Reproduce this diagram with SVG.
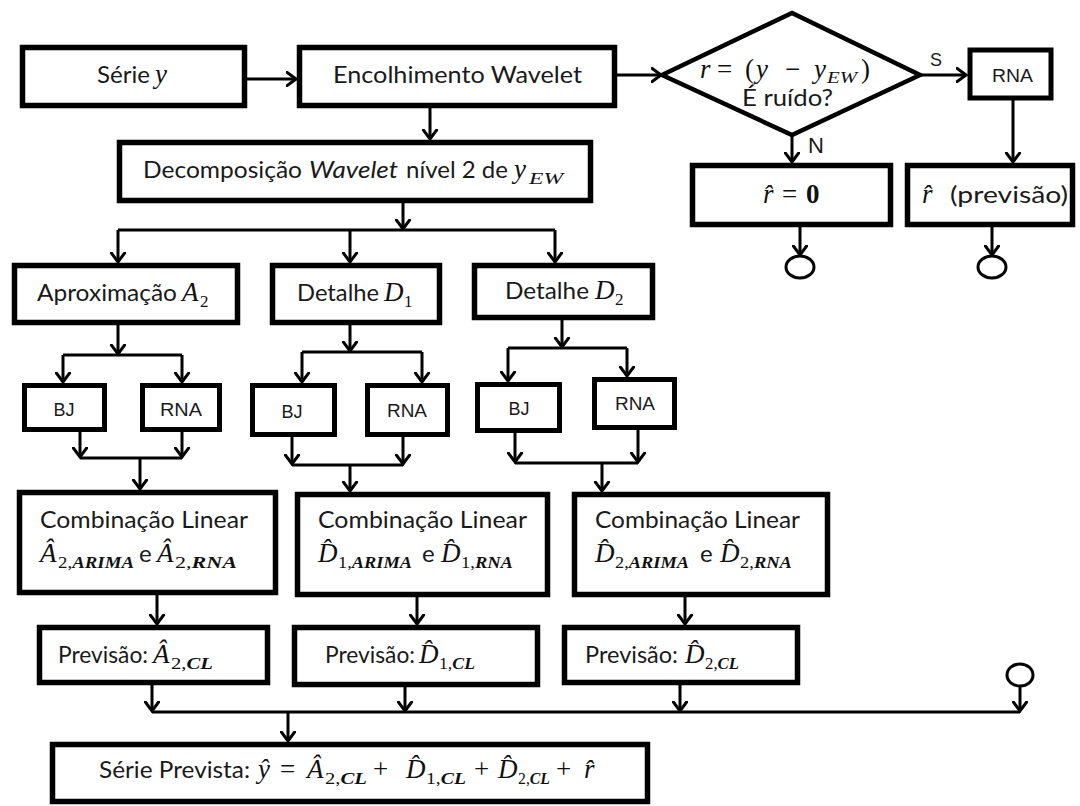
<svg xmlns="http://www.w3.org/2000/svg" width="1080" height="806" viewBox="0 0 1080 806">
<style>
.box{fill:#fff;stroke:#000;stroke-width:5.5}
.sm{fill:#fff;stroke:#000;stroke-width:5}
.ln{fill:none;stroke:#000;stroke-width:3}
.ar{fill:none;stroke:#000;stroke-width:3;marker-end:url(#ah)}
.t{font-family:Lato,'Open Sans',sans-serif;font-size:24px;fill:#1a1a1a}
.a{font-family:'Liberation Sans',Arial,sans-serif;fill:#1a1a1a}
.m{font-family:'Liberation Serif','DejaVu Serif',serif;font-style:italic;font-size:27px;fill:#111}
.mr{font-family:'Liberation Serif','DejaVu Serif',serif;font-size:27px;fill:#111}
.s{font-family:'Liberation Serif','DejaVu Serif',serif;font-size:17px;fill:#111}
.b{font-style:italic;font-weight:bold}
</style>
<defs>
<marker id="ah" viewBox="0 0 12 16" refX="10.5" refY="8" markerWidth="12" markerHeight="16" markerUnits="userSpaceOnUse" orient="auto">
<path d="M1,1 L10.5,8 L1,15" fill="none" stroke="#000" stroke-width="3" stroke-linecap="round"/>
</marker>
</defs>
<rect width="1080" height="806" fill="#fff"/>

<g id="connectors">
<path class="ar" d="M247,79 H296"/>
<path class="ar" d="M617,75 H661"/>
<path class="ar" d="M430,108 V139"/>
<path class="ar" d="M403,203 V229"/>
<path class="ln" d="M118,230 H555"/>
<path class="ar" d="M118,230 V262"/>
<path class="ar" d="M350,230 V262"/>
<path class="ar" d="M555,230 V262"/>
<path class="ar" d="M920,75 H966"/>
<path class="ar" d="M792,135 V162"/>
<path class="ar" d="M1013,100 V162"/>
<path class="ar" d="M800,227 V255"/>
<path class="ar" d="M992,227 V255"/>
<ellipse class="ln" cx="800" cy="267" rx="14" ry="11"/>
<ellipse class="ln" cx="992" cy="267" rx="14" ry="11"/>

<path class="ar" d="M118,325 V354"/>
<path class="ln" d="M63,355 H182"/>
<path class="ar" d="M63,355 V382"/>
<path class="ar" d="M182,355 V382"/>
<path class="ar" d="M80,432 V457"/>
<path class="ar" d="M182,432 V457"/>
<path class="ln" d="M80,458 H182"/>
<path class="ar" d="M140,458 V489"/>

<path class="ar" d="M350,325 V351"/>
<path class="ln" d="M302,352 H422"/>
<path class="ar" d="M302,352 V382"/>
<path class="ar" d="M422,352 V382"/>
<path class="ar" d="M292,437 V464"/>
<path class="ar" d="M403,437 V464"/>
<path class="ln" d="M292,465 H403"/>
<path class="ar" d="M350,465 V491"/>

<path class="ar" d="M562,320 V347"/>
<path class="ln" d="M508,348 H627"/>
<path class="ar" d="M508,348 V381"/>
<path class="ar" d="M627,348 V376"/>
<path class="ar" d="M515,433 V462"/>
<path class="ar" d="M638,430 V462"/>
<path class="ln" d="M515,463 H638"/>
<path class="ar" d="M602,463 V491"/>

<path class="ar" d="M157,595 V624"/>
<path class="ar" d="M417,597 V624"/>
<path class="ar" d="M685,597 V624"/>

<path class="ar" d="M152,685 V711"/>
<path class="ar" d="M405,687 V711"/>
<path class="ar" d="M680,685 V711"/>
<ellipse class="ln" cx="1020" cy="675" rx="13" ry="11"/>
<path class="ar" d="M1020,686 V711"/>
<path class="ln" d="M152,712 H1020"/>
<path class="ar" d="M288,712 V741"/>
</g>

<g id="serie">
<rect class="box" x="22.5" y="47.5" width="222" height="58"/>
<text class="t" x="97" y="83" textLength="53" lengthAdjust="spacingAndGlyphs">Série</text>
<text class="m" x="155" y="83">y</text>
</g>

<g id="encolhimento">
<rect class="box" x="299.5" y="47.5" width="315" height="58"/>
<text class="t" x="333" y="83" textLength="249" lengthAdjust="spacingAndGlyphs">Encolhimento Wavelet</text>
</g>

<g id="decomposicao">
<rect class="box" x="119.5" y="142.5" width="471" height="58"/>
<text class="t" x="143" y="178" textLength="159" lengthAdjust="spacingAndGlyphs">Decomposição</text>
<text class="t" x="309" y="178" font-style="italic" textLength="89" lengthAdjust="spacingAndGlyphs">Wavelet</text>
<text class="t" x="406" y="178" textLength="102" lengthAdjust="spacingAndGlyphs">nível 2 de</text>
<text class="m" x="514" y="178">y</text>
<text class="s" x="529" y="184" font-style="italic" textLength="34" lengthAdjust="spacingAndGlyphs">EW</text>
</g>

<g id="decisao">
<polygon points="662,75 792,13 920,75 792,135" fill="#fff" stroke="#000" stroke-width="4.5"/>
<text class="m" x="700" y="78">r</text>
<text class="mr" x="717" y="78">=</text>
<text class="mr" x="745" y="78">(</text>
<text class="m" x="756" y="78">y</text>
<text class="mr" x="785" y="78">−</text>
<text class="m" x="814" y="78">y</text>
<text class="s" x="827" y="83" font-style="italic" textLength="30" lengthAdjust="spacingAndGlyphs">EW</text>
<text class="mr" x="861" y="78">)</text>
<text class="t" x="742" y="106" textLength="91" lengthAdjust="spacingAndGlyphs">É ruído?</text>
<text class="a" x="930" y="66" font-size="18">S</text>
<text class="a" x="808" y="153" font-size="22">N</text>
</g>

<g id="rna-residuo">
<rect class="sm" x="970" y="50" width="81" height="48"/>
<text class="a" x="992" y="82" font-size="18" textLength="41" lengthAdjust="spacingAndGlyphs">RNA</text>
</g>

<g id="r-zero">
<rect class="box" x="692.5" y="165.5" width="198" height="59"/>
<text class="m" x="763" y="203">r&#770;</text>
<text class="mr" x="782" y="203">=</text>
<text class="mr" x="806" y="203" font-weight="bold">0</text>
</g>

<g id="r-previsao">
<rect class="box" x="907.5" y="165.5" width="165" height="59"/>
<text class="m" x="922" y="203">r&#770;</text>
<text class="t" x="950" y="203" textLength="118" lengthAdjust="spacingAndGlyphs">(previsão)</text>
</g>

<g id="aproximacao">
<rect class="box" x="14.5" y="265.5" width="223" height="57"/>
<text class="t" x="37" y="301" textLength="140" lengthAdjust="spacingAndGlyphs">Aproximação</text>
<text class="m" x="182" y="301">A</text>
<text class="s" x="200" y="307" font-size="18">2</text>
</g>

<g id="detalhe1">
<rect class="box" x="272.5" y="265.5" width="167" height="57"/>
<text class="t" x="297" y="301" textLength="82" lengthAdjust="spacingAndGlyphs">Detalhe</text>
<text class="m" x="384" y="301">D</text>
<text class="s" x="404" y="307" font-size="18">1</text>
</g>

<g id="detalhe2">
<rect class="box" x="474.5" y="265.5" width="178" height="52"/>
<text class="t" x="505" y="299" textLength="84" lengthAdjust="spacingAndGlyphs">Detalhe</text>
<text class="m" x="595" y="299">D</text>
<text class="s" x="615" y="305" font-size="18">2</text>
</g>

<g id="bj-a">
<rect class="sm" x="24.5" y="385.5" width="80" height="44"/>
<text class="a" x="64" y="416" font-size="18" text-anchor="middle">BJ</text>
</g>
<g id="rna-a">
<rect class="sm" x="142.5" y="385.5" width="77" height="44"/>
<text class="a" x="181" y="416" font-size="18" text-anchor="middle" textLength="42" lengthAdjust="spacingAndGlyphs">RNA</text>
</g>
<g id="bj-d1">
<rect class="sm" x="252.5" y="385.5" width="82" height="49"/>
<text class="a" x="292" y="418" font-size="18" text-anchor="middle">BJ</text>
</g>
<g id="rna-d1">
<rect class="sm" x="367.5" y="385.5" width="80" height="49"/>
<text class="a" x="407" y="417" font-size="18" text-anchor="middle" textLength="40" lengthAdjust="spacingAndGlyphs">RNA</text>
</g>
<g id="bj-d2">
<rect class="sm" x="477.5" y="384.5" width="82" height="46"/>
<text class="a" x="519" y="415" font-size="18" text-anchor="middle">BJ</text>
</g>
<g id="rna-d2">
<rect class="sm" x="594.5" y="379.5" width="80" height="48"/>
<text class="a" x="635" y="410" font-size="18" text-anchor="middle" textLength="40" lengthAdjust="spacingAndGlyphs">RNA</text>
</g>

<g id="comb-a">
<rect class="box" x="19.5" y="492.5" width="256" height="100"/>
<text class="t" x="40" y="528" textLength="208" lengthAdjust="spacingAndGlyphs">Combinação Linear</text>
<text class="m" x="40" y="562">Â</text>
<text class="s" x="58" y="568" textLength="76" lengthAdjust="spacingAndGlyphs">2,<tspan class="b">ARIMA</tspan></text>
<text class="t" x="139" y="562">e</text>
<text class="m" x="157" y="562">Â</text>
<text class="s" x="175" y="568" textLength="62" lengthAdjust="spacingAndGlyphs">2,<tspan class="b">RNA</tspan></text>
</g>

<g id="comb-d1">
<rect class="box" x="297.5" y="494.5" width="250" height="100"/>
<text class="t" x="318" y="528" textLength="209" lengthAdjust="spacingAndGlyphs">Combinação Linear</text>
<text class="m" x="318" y="562">D&#770;</text>
<text class="s" x="338" y="568" textLength="74" lengthAdjust="spacingAndGlyphs">1,<tspan class="b">ARIMA</tspan></text>
<text class="t" x="422" y="562">e</text>
<text class="m" x="441" y="562">D&#770;</text>
<text class="s" x="461" y="568" textLength="52" lengthAdjust="spacingAndGlyphs">1,<tspan class="b">RNA</tspan></text>
</g>

<g id="comb-d2">
<rect class="box" x="574.5" y="494.5" width="253" height="100"/>
<text class="t" x="595" y="528" textLength="205" lengthAdjust="spacingAndGlyphs">Combinação Linear</text>
<text class="m" x="595" y="562">D&#770;</text>
<text class="s" x="615" y="568" textLength="74" lengthAdjust="spacingAndGlyphs">2,<tspan class="b">ARIMA</tspan></text>
<text class="t" x="700" y="562">e</text>
<text class="m" x="720" y="562">D&#770;</text>
<text class="s" x="740" y="568" textLength="52" lengthAdjust="spacingAndGlyphs">2,<tspan class="b">RNA</tspan></text>
</g>

<g id="prev-a">
<rect class="box" x="39.5" y="627.5" width="228" height="55"/>
<text class="t" x="58" y="663" textLength="90" lengthAdjust="spacingAndGlyphs">Previsão:</text>
<text class="m" x="153" y="663">Â</text>
<text class="s" x="171" y="669" textLength="42" lengthAdjust="spacingAndGlyphs">2,<tspan class="b">CL</tspan></text>
</g>

<g id="prev-d1">
<rect class="box" x="294.5" y="627.5" width="243" height="57"/>
<text class="t" x="325" y="663" textLength="90" lengthAdjust="spacingAndGlyphs">Previsão:</text>
<text class="m" x="419" y="663">D&#770;</text>
<text class="s" x="439" y="669" textLength="36" lengthAdjust="spacingAndGlyphs">1,<tspan class="b">CL</tspan></text>
</g>

<g id="prev-d2">
<rect class="box" x="564.5" y="627.5" width="233" height="55"/>
<text class="t" x="585" y="663" textLength="93" lengthAdjust="spacingAndGlyphs">Previsão:</text>
<text class="m" x="685" y="663">D&#770;</text>
<text class="s" x="705" y="669" textLength="34" lengthAdjust="spacingAndGlyphs">2,<tspan class="b">CL</tspan></text>
</g>

<g id="serie-prevista">
<rect class="box" x="52.5" y="744.5" width="595" height="57"/>
<text class="t" x="99" y="778" textLength="151" lengthAdjust="spacingAndGlyphs">Série Prevista:</text>
<text class="m" x="258" y="778">ŷ</text>
<text class="mr" x="280" y="778">=</text>
<text class="m" x="307" y="778">Â</text>
<text class="s" x="325" y="784" textLength="42" lengthAdjust="spacingAndGlyphs">2,<tspan class="b">CL</tspan></text>
<text class="mr" x="373" y="778">+</text>
<text class="m" x="406" y="778">D&#770;</text>
<text class="s" x="426" y="784" textLength="40" lengthAdjust="spacingAndGlyphs">1,<tspan class="b">CL</tspan></text>
<text class="mr" x="474" y="778">+</text>
<text class="m" x="498" y="778">D&#770;</text>
<text class="s" x="518" y="784" textLength="32" lengthAdjust="spacingAndGlyphs">2,<tspan class="b">CL</tspan></text>
<text class="mr" x="556" y="778">+</text>
<text class="m" x="584" y="778">r&#770;</text>
</g>
</svg>
